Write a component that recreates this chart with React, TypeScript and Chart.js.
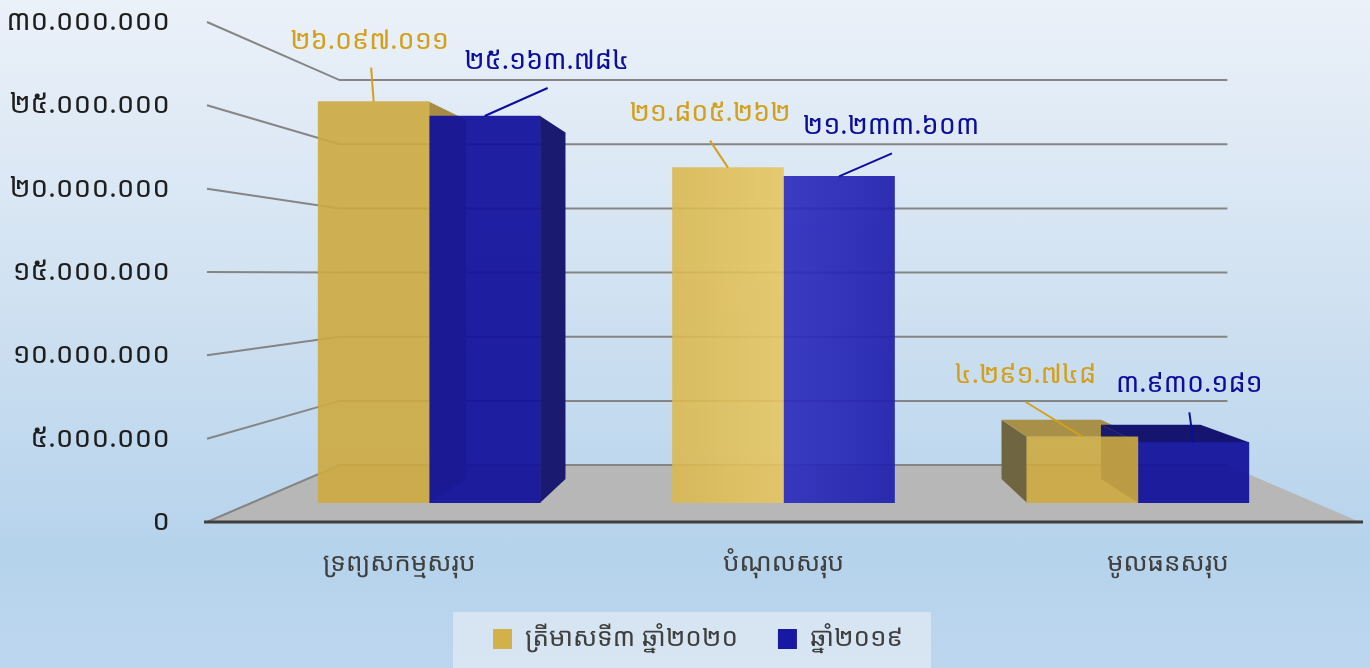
import React, { useEffect, useRef } from 'react';
import { Chart, registerables } from 'chart.js';

Chart.register(...registerables);

// ---------- data ----------
const CATEGORIES = ['ទ្រព្យសកម្មសរុប', 'បំណុលសរុប', 'មូលធនសរុប'];
const SERIES_NAMES = ['ត្រីមាសទី៣ ឆ្នាំ២០២០', 'ឆ្នាំ២០១៩'];
const Q3_2020 = [26097011, 21805262, 4291748];
const YEAR_2019 = [25163784, 21233603, 3930181];
const Y_MIN = 0;
const Y_MAX = 30000000;
const Y_STEP = 5000000;

// ---------- style ----------
const KH = "'Noto Sans Khmer', 'Khmer OS', 'Khmer OS System', 'Noto Sans', 'DejaVu Sans', sans-serif";
const K_BAR = 0.922; // depth scale of the bar front plane
const K_BACK = 0.826; // depth scale of the bar back plane
const K_WALL = 0.77; // depth scale of the back wall
const VP_FY = 0.505; // vanishing point vertical fraction of plot area
const BAR_THICKNESS = 111;
const LEGEND_SHIFT = 18;

const GOLD = { base: 'rgba(205,170,64,0.9)', light: 'rgba(230,198,98,0.9)', sideR: '#a68c46', sideL: '#6f6641', top: '#a89048', text: '#d4a01c', legend: '#d2b04a' };
const BLUE = { base: 'rgba(16,16,154,0.93)', light: 'rgba(46,46,190,0.93)', sideR: '#1a1a70', sideL: '#1a1a6a', top: '#15156f', text: '#0d0d9c', legend: '#1818a0' };
const STYLES = [GOLD, BLUE];

// label placement relative to bar top centre: text centre (tx,ty), leader start (lx,ly)
const LABEL_OFFSETS = [
  [
    { tx: -4, ty: -60, lx: -2.5, ly: -34 },
    { tx: -18, ty: -54, lx: -18, ly: -27 },
    { tx: -57, ty: -61, lx: -57, ly: -35 },
  ],
  [
    { tx: 62, ty: -55, lx: 63, ly: -28 },
    { tx: 52, ty: -50, lx: 53, ly: -23 },
    { tx: -4, ty: -58, lx: -4, ly: -30 },
  ],
];

const KH_DIGITS = ['០', '១', '២', '៣', '៤', '៥', '៦', '៧', '៨', '៩'];
function khmerNumber(v: number): string {
  const s = Math.round(v).toString().replace(/\B(?=(\d{3})+(?!\d))/g, '.');
  return s.replace(/\d/g, (d) => KH_DIGITS[+d]);
}

type Pt = { x: number; y: number };
const proj = (vp: Pt, x: number, y: number, k: number): Pt => ({ x: vp.x + (x - vp.x) * k, y: vp.y + (y - vp.y) * k });
function getVP(chart: any): Pt {
  const a = chart.chartArea;
  return { x: (a.left + a.right) / 2, y: a.top + (a.bottom - a.top) * VP_FY };
}
function poly(ctx: CanvasRenderingContext2D, pts: Pt[], fill: string) {
  ctx.beginPath();
  ctx.moveTo(pts[0].x, pts[0].y);
  for (let i = 1; i < pts.length; i++) ctx.lineTo(pts[i].x, pts[i].y);
  ctx.closePath();
  ctx.fillStyle = fill;
  ctx.fill();
}

const scenePlugin = {
  id: 'scene3d',
  afterLayout(chart: any) {
    const a = chart.chartArea;
    const vp = getVP(chart);
    const { x: xs, y: ys, xb, yb } = chart.scales;
    const p0 = xs.getPixelForValue(0);
    const d = xs.getPixelForValue(1) - p0;
    const inv = (p: number) => (p - p0) / d;
    xb.min = inv(vp.x + (a.left - vp.x) / K_BAR);
    xb.max = inv(vp.x + (a.right - vp.x) / K_BAR);
    xb.configure();
    yb.min = ys.getValueForPixel(vp.y + (a.bottom - vp.y) / K_BAR);
    yb.max = ys.getValueForPixel(vp.y + (a.top - vp.y) / K_BAR);
    yb.configure();
    if (chart.legend) {
      chart.legend.left += LEGEND_SHIFT;
      chart.legend.right += LEGEND_SHIFT;
    }
  },
  beforeDraw(chart: any) {
    const legend = chart.legend;
    if (!legend || !legend.legendHitBoxes || !legend.legendHitBoxes.length) return;
    const hb = legend.legendHitBoxes;
    const l = Math.min(...hb.map((h: any) => h.left)) - 40;
    const r = Math.max(...hb.map((h: any) => h.left + h.width)) + 28;
    const top = hb[0].top + hb[0].height / 2 - 27;
    const ctx = chart.ctx;
    ctx.save();
    ctx.fillStyle = 'rgba(222,232,242,0.8)';
    ctx.fillRect(l, top, r - l, chart.height - top);
    ctx.restore();
  },
  beforeDatasetsDraw(chart: any) {
    const ctx: CanvasRenderingContext2D = chart.ctx;
    const a = chart.chartArea;
    const vp = getVP(chart);
    const ys = chart.scales.y;
    ctx.save();
    // floor
    const bl = proj(vp, a.left, a.bottom, K_WALL);
    const br = proj(vp, a.right, a.bottom, K_WALL);
    poly(ctx, [bl, br, { x: a.right, y: a.bottom }, { x: a.left, y: a.bottom }], '#b7b7b7');
    // wall gridlines + diagonal connectors
    ctx.strokeStyle = '#858585';
    ctx.lineWidth = 2;
    ys.ticks.forEach((t: any) => {
      const fy = ys.getPixelForValue(t.value);
      const l = proj(vp, a.left, fy, K_WALL);
      const r = proj(vp, a.right, fy, K_WALL);
      ctx.beginPath();
      ctx.moveTo(a.left, fy);
      ctx.lineTo(l.x, l.y);
      ctx.lineTo(r.x, r.y);
      ctx.stroke();
    });
    // front floor edge
    ctx.strokeStyle = '#3f3f3f';
    ctx.lineWidth = 3;
    ctx.beginPath();
    ctx.moveTo(a.left - 3, a.bottom);
    ctx.lineTo(a.right + 3, a.bottom);
    ctx.stroke();
    // bar sides and tops
    const f = K_BACK / K_BAR;
    for (let j = 0; j < CATEGORIES.length; j++) {
      for (let i = 0; i < chart.data.datasets.length; i++) {
        const el = chart.getDatasetMeta(i).data[j];
        if (!el) continue;
        const { x, y, base, width } = el.getProps(['x', 'y', 'base', 'width'], true);
        const L = x - width / 2, R = x + width / 2, T = y, B = base;
        const s = STYLES[i];
        const bLT = proj(vp, L, T, f), bRT = proj(vp, R, T, f), bLB = proj(vp, L, B, f), bRB = proj(vp, R, B, f);
        if (R < vp.x) poly(ctx, [{ x: R, y: T }, bRT, bRB, { x: R, y: B }], s.sideR);
        if (L > vp.x) poly(ctx, [{ x: L, y: T }, bLT, bLB, { x: L, y: B }], s.sideL);
        if (T > vp.y) poly(ctx, [{ x: L, y: T }, { x: R, y: T }, bRT, bLT], s.top);
      }
    }
    ctx.restore();
  },
  afterDatasetsDraw(chart: any) {
    const ctx: CanvasRenderingContext2D = chart.ctx;
    ctx.save();
    ctx.font = `27px ${KH}`;
    ctx.textAlign = 'center';
    ctx.textBaseline = 'middle';
    chart.data.datasets.forEach((ds: any, i: number) => {
      const meta = chart.getDatasetMeta(i);
      meta.data.forEach((el: any, j: number) => {
        const { x, y } = el.getProps(['x', 'y'], true);
        const o = LABEL_OFFSETS[i][j];
        const v = ds.data[j].y;
        ctx.strokeStyle = STYLES[i].text;
        ctx.lineWidth = 2;
        ctx.beginPath();
        ctx.moveTo(x + o.lx, y + o.ly);
        ctx.lineTo(x, y);
        ctx.stroke();
        ctx.fillStyle = STYLES[i].text;
        ctx.fillText(khmerNumber(v), x + o.tx, y + o.ty);
      });
    });
    ctx.restore();
  },
};

function frontFill(style: typeof GOLD) {
  return (c: any) => {
    const a = c.chart.chartArea;
    if (!a) return style.base;
    const g = c.chart.ctx.createLinearGradient(a.left, 0, a.right, 0);
    g.addColorStop(0, style.base);
    g.addColorStop(0.3, style.base);
    g.addColorStop(0.5, style.light);
    g.addColorStop(0.7, style.base);
    g.addColorStop(1, style.base);
    return g;
  };
}

export default function App() {
  const ref = useRef<HTMLCanvasElement>(null);
  useEffect(() => {
    document.body.style.margin = '0';
    const chart = new Chart(ref.current!, {
      type: 'bar',
      data: {
        datasets: [
          {
            label: SERIES_NAMES[0],
            data: Q3_2020.map((v, i) => ({ x: i, y: v })),
            backgroundColor: frontFill(GOLD),
            borderWidth: 0,
            xAxisID: 'xb',
            yAxisID: 'yb',
            barThickness: BAR_THICKNESS,
          },
          {
            label: SERIES_NAMES[1],
            data: YEAR_2019.map((v, i) => ({ x: i, y: v })),
            backgroundColor: frontFill(BLUE),
            borderWidth: 0,
            xAxisID: 'xb',
            yAxisID: 'yb',
            barThickness: BAR_THICKNESS,
          },
        ],
      } as any,
      options: {
        animation: false,
        responsive: false,
        devicePixelRatio: 1,
        layout: { padding: { top: 22, right: 10, left: 0, bottom: 6 } },
        scales: {
          x: {
            type: 'category',
            labels: CATEGORIES,
            offset: true,
            position: 'bottom',
            grid: { display: false, drawTicks: false },
            border: { display: false },
            ticks: { font: { family: KH, size: 26 }, color: '#3f3f3f', padding: 26, maxRotation: 0 },
            afterFit: (s: any) => { s.height = 64; s.paddingLeft = 0; s.paddingRight = 0; },
          },
          xb: { type: 'linear', display: false, position: 'bottom', offset: false },
          y: {
            type: 'linear',
            position: 'left',
            min: Y_MIN,
            max: Y_MAX,
            grid: { display: false, drawTicks: false },
            border: { display: false },
            ticks: {
              stepSize: Y_STEP,
              font: { family: KH, size: 28 },
              color: '#1e1e1e',
              padding: 37,
              callback: (v: any) => khmerNumber(Number(v)),
            },
            afterFit: (s: any) => { s.width = 207; s.paddingTop = 0; s.paddingBottom = 0; },
          },
          yb: { type: 'linear', display: false, position: 'left' },
        } as any,
        plugins: {
          legend: {
            position: 'bottom',
            labels: {
              boxWidth: 19,
              boxHeight: 20,
              padding: 40,
              color: '#3f3f3f',
              font: { family: KH, size: 26 },
              generateLabels: () =>
                SERIES_NAMES.map((name, i) => ({
                  text: name,
                  fillStyle: STYLES[i].legend,
                  strokeStyle: STYLES[i].legend,
                  lineWidth: 0,
                  hidden: false,
                  datasetIndex: i,
                  fontColor: '#3f3f3f',
                })),
            },
          },
          tooltip: { enabled: false },
        },
      } as any,
      plugins: [scenePlugin],
    });
    return () => chart.destroy();
  }, []);
  return (
    <div
      style={{
        position: 'fixed',
        left: 0,
        top: 0,
        width: 1370,
        height: 668,
        background: 'linear-gradient(180deg, #ebf1f9 0%, #d3e3f2 40%, #b6d3ec 82%, #bcd6ee 100%)',
      }}
    >
      <canvas ref={ref} width={1370} height={668} style={{ display: 'block' }} />
    </div>
  );
}
